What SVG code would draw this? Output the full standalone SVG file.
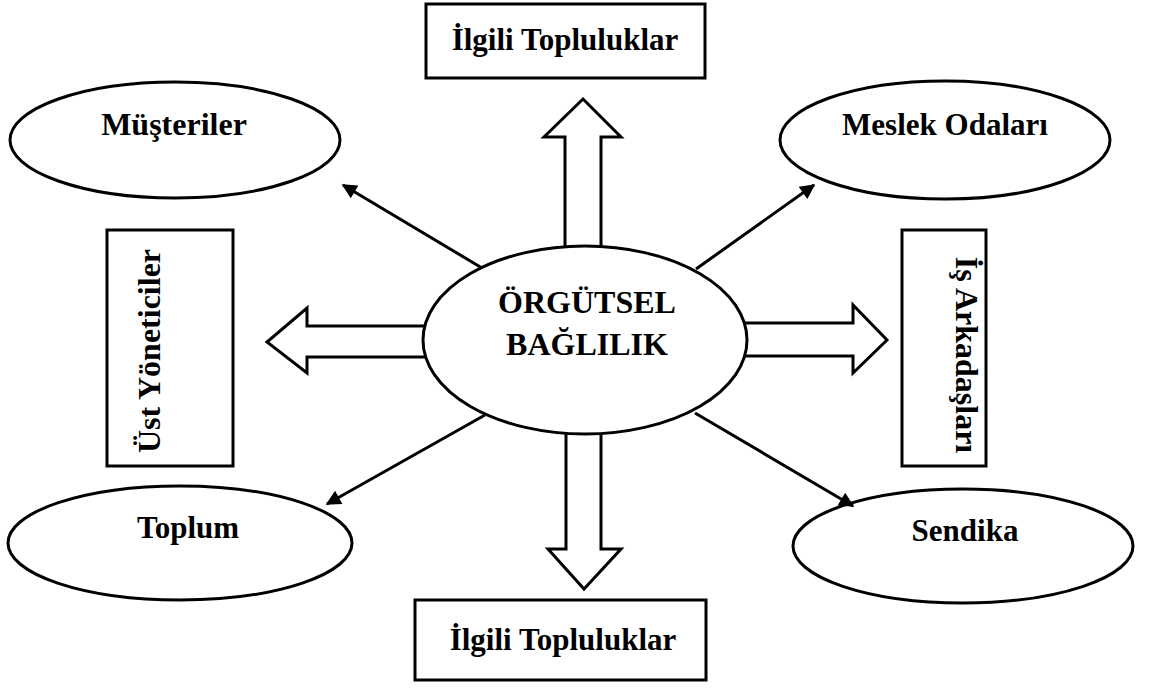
<svg xmlns="http://www.w3.org/2000/svg" width="1156" height="691" viewBox="0 0 1156 691">
  <style>
    .shape { fill: #fff; stroke: #000; stroke-width: 3; }
    .outline { fill: none; stroke: #000; stroke-width: 3; }
    .label { font-family: "Liberation Serif", "Times New Roman", serif; font-weight: bold; font-size: 31px; fill: #000; text-anchor: middle; }
    .big { font-size: 32px; }
    .link { stroke: #000; stroke-width: 3; fill: none; marker-end: url(#head); }
    .block { fill: #fff; stroke: #000; stroke-width: 3; stroke-linejoin: miter; }
  </style>
  <defs>
    <marker id="head" viewBox="0 0 10 10" refX="9" refY="5" markerWidth="6" markerHeight="5" orient="auto" markerUnits="strokeWidth">
      <path d="M0,0 L10,5 L0,10 z" fill="#000"/>
    </marker>
  </defs>
  <rect width="1156" height="691" fill="#fff"/>

  <!-- arrows leaving the central ellipse; shafts run under it and are left open at that end -->
  <g id="connectors">
    <line class="link" x1="482" y1="268" x2="343" y2="185"/>
    <line class="link" x1="696" y1="269" x2="814" y2="185"/>
    <line class="link" x1="485" y1="415" x2="327" y2="504"/>
    <line class="link" x1="695" y1="413" x2="853" y2="506"/>
    <path class="block" d="M565,270 L565,137 L544,137 L583,99 L621,137 L601,137 L601,270"/>
    <path class="block" d="M566,410 L566,549 L548,549 L584,589 L621,549 L601,549 L601,410"/>
    <path class="block" d="M450,326 L307,326 L307,308 L267,342 L307,373 L307,357 L450,357"/>
    <path class="block" d="M720,323 L853,323 L853,305 L887,340 L853,373 L853,356 L720,356"/>
  </g>

  <g id="center">
    <ellipse class="shape" cx="585" cy="340" rx="162" ry="94"/>
    <text class="label big" x="587" y="313">ÖRGÜTSEL</text>
    <text class="label big" x="587" y="355">BAĞLILIK</text>
  </g>

  <g id="ilgili-top">
    <rect class="shape" x="426" y="4" width="279" height="74"/>
    <text class="label" x="565" y="50">İlgili Topluluklar</text>
  </g>

  <g id="ilgili-bottom">
    <rect class="shape" x="415" y="600" width="291" height="80"/>
    <text class="label" x="563" y="650">İlgili Topluluklar</text>
  </g>

  <g id="musteriler">
    <ellipse class="outline" cx="175" cy="140" rx="165" ry="58"/>
    <text class="label big" x="174" y="135">Müşteriler</text>
  </g>

  <g id="meslek-odalari">
    <ellipse class="outline" cx="945" cy="140" rx="165" ry="59"/>
    <text class="label" x="945" y="135">Meslek Odaları</text>
  </g>

  <g id="toplum">
    <ellipse class="outline" cx="180" cy="543" rx="172" ry="57"/>
    <text class="label" x="188" y="538">Toplum</text>
  </g>

  <g id="sendika">
    <ellipse class="outline" cx="963" cy="546" rx="170" ry="57"/>
    <text class="label" x="965" y="541">Sendika</text>
  </g>

  <g id="ust-yoneticiler">
    <rect class="shape" x="107" y="230" width="126" height="236"/>
    <text class="label big" transform="translate(160,351) rotate(-90)">Üst Yöneticiler</text>
  </g>

  <g id="is-arkadaslari">
    <rect class="shape" x="902" y="230" width="84" height="236"/>
    <text class="label big" transform="translate(956,355) rotate(90)">İş Arkadaşları</text>
  </g>
</svg>
